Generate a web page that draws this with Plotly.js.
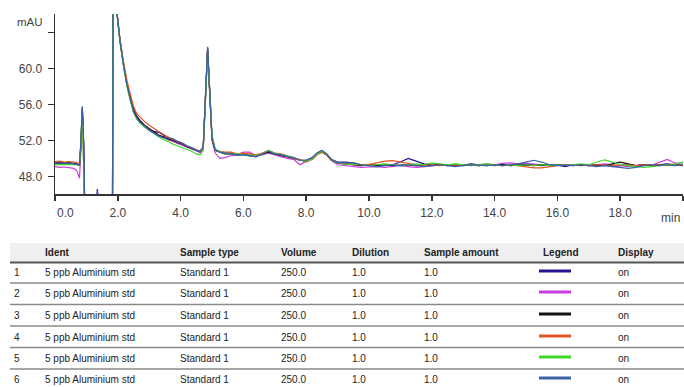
<!DOCTYPE html>
<html>
<head>
<meta charset="utf-8">
<script src="https://cdn.plot.ly/plotly-3.0.1.min.js"></script>
<style>
  html, body { margin: 0; padding: 0; background: #fff; }
  #chart { width: 684px; height: 387px; }
</style>
</head>
<body>
<div id="chart"></div>
<script>
// Retention time (min)
const time = [
  0, 0.15, 0.3, 0.45, 0.6, 0.7, 0.78, 0.82, 0.87, 0.91, 0.96,
  1.25, 1.31, 1.35, 1.39, 1.45,
  1.8, 1.83, 1.86, 1.93, 1.97,
  2.07, 2.18, 2.29, 2.4, 2.5, 2.6, 2.71,
  2.85, 3.0, 3.15, 3.3, 3.45, 3.6, 3.75, 3.9, 4.05, 4.2, 4.35, 4.5,
  4.62, 4.72, 4.79, 4.86, 4.93, 5.0, 5.1,
  5.25, 5.4, 5.6, 5.8, 6.0, 6.2, 6.4, 6.6, 6.8, 7.0, 7.2, 7.4, 7.6, 7.8, 8.0, 8.2, 8.35, 8.5, 8.65, 8.8, 9.0,
  9.25, 9.5, 9.75, 10, 10.25, 10.5, 10.75, 11, 11.25, 11.5, 11.75, 12, 12.25, 12.5, 12.75, 13,
  13.25, 13.5, 13.75, 14, 14.25, 14.5, 14.75, 15, 15.25, 15.5, 15.75, 16, 16.25, 16.5, 16.75, 17,
  17.25, 17.5, 17.75, 18, 18.25, 18.5, 18.75, 19, 19.25, 19.5, 19.75, 20
];

// Absorbance (mAU) of the six injections
const run1 = [
  49.5, 49.55, 49.5, 49.55, 49.45, 49.4, 49.3, 51.5, 55.7, 52.0, 42,
  42, 44, 46.6, 44, 42,
  42, 42, 92, 92, 66.3,
  63.0, 60.4, 58.2, 56.6, 55.3, 54.6, 54.1,
  53.6, 53.2, 53.0, 52.9, 52.6, 52.1, 52.0, 51.7, 51.5, 51.3, 51.1, 50.9,
  50.7, 51.2, 56.5, 62.3, 57.3, 52.3, 51.0,
  50.7, 50.6, 50.6, 50.4, 50.5, 50.4, 50.2, 50.5, 50.8, 50.5, 50.4, 50.2, 50.1, 49.8, 49.8, 50.1, 50.6, 50.9, 50.5, 49.9, 49.6,
  49.6, 49.5, 49.3, 49.2, 49.25, 49.3, 49.3, 49.6, 50.0, 49.7, 49.4, 49.3, 49.35, 49.2, 49.3, 49.25,
  49.4, 49.3, 49.2, 49.3, 49.35, 49.2, 49.3, 49.25, 49.3, 49.2, 49.3, 49.25, 49.1, 49.3, 49.2, 49.3,
  49.2, 49.25, 49.1, 49.2, 49.3, 49.2, 49.3, 49.2, 49.3, 49.4, 49.3, 49.35
];
const run2 = [
  49.1, 49.0, 49.05, 48.95, 48.9, 48.6, 47.8, 50.5, 55.0, 51.5, 42,
  42, 43, 45.5, 43, 42,
  42, 42, 92, 92, 66.3,
  63.1, 60.5, 58.3, 56.7, 55.4, 54.7, 54.2,
  53.7, 53.2, 52.9, 52.5, 52.3, 52.1, 51.9, 51.7, 51.5, 51.3, 51.1, 50.9,
  50.6, 51.0, 56.2, 62.0, 57.0, 52.0, 50.6,
  50.0, 50.1, 50.3, 50.4, 50.7, 50.7, 50.3, 50.4, 50.6, 50.4, 50.2, 50.0, 49.9, 49.3, 49.7, 50.0, 50.5, 50.8, 50.4, 49.8, 49.3,
  49.2, 49.1, 49.0, 49.05, 49.1, 49.0, 49.1, 49.2, 49.1, 49.0, 49.1, 49.2, 49.3, 49.2, 49.35, 49.3,
  49.2, 49.3, 49.4, 49.3, 49.45, 49.5, 49.4, 49.45, 49.4, 49.3, 49.2, 49.3, 49.3, 49.25, 49.3, 49.2,
  49.3, 49.4, 49.3, 49.2, 49.1, 49.2, 49.3, 49.25, 49.6, 49.9, 49.5, 49.3
];
const run3 = [
  49.4, 49.45, 49.4, 49.45, 49.4, 49.35, 49.3, 51.2, 55.5, 51.8, 42,
  42, 43, 45.6, 43, 42,
  42, 42, 92, 92, 66.3,
  63.1, 60.5, 58.3, 56.7, 55.4, 54.7, 54.2,
  53.7, 53.3, 52.9, 52.6, 52.4, 52.2, 52.0, 51.8, 51.6, 51.3, 51.1, 50.9,
  50.8, 51.2, 56.4, 62.2, 57.2, 52.2, 50.9,
  50.7, 50.5, 50.5, 50.4, 50.4, 50.3, 50.2, 50.5, 50.7, 50.5, 50.3, 50.2, 50.0, 49.8, 49.7, 50.0, 50.5, 50.7, 50.4, 49.8, 49.5,
  49.4, 49.3, 49.2, 49.3, 49.2, 49.3, 49.2, 49.25, 49.3, 49.2, 49.3, 49.2, 49.25, 49.3, 49.2, 49.3,
  49.25, 49.2, 49.3, 49.2, 49.3, 49.2, 49.25, 49.3, 49.2, 49.3, 49.2, 49.3, 49.2, 49.25, 49.3, 49.2,
  49.3, 49.2, 49.4, 49.6, 49.4, 49.2, 49.3, 49.2, 49.3, 49.25, 49.3, 49.2
];
const run4 = [
  49.65, 49.7, 49.6, 49.65, 49.6, 49.55, 49.4, 51.0, 55.3, 51.6, 42,
  42, 43, 45.5, 43, 42,
  42, 42, 92, 92, 66.3,
  63.3, 60.8, 58.7, 57.1, 55.8, 55.0, 54.6,
  54.1, 53.7, 53.3, 53.0, 52.7, 52.4, 52.1, 51.9, 51.7, 51.4, 51.2, 51.0,
  50.8, 51.1, 56.2, 62.0, 57.1, 52.2, 51.0,
  50.8, 50.7, 50.7, 50.5, 50.6, 50.5, 50.4, 50.6, 50.9, 50.6, 50.5, 50.3, 50.0, 49.9, 49.6, 49.9, 50.4, 50.7, 50.4, 49.8, 49.5,
  49.4, 49.3, 49.3, 49.35, 49.5, 49.7, 49.75, 49.6, 49.4, 49.3, 49.2, 49.3, 49.2, 49.3, 49.25, 49.2,
  49.3, 49.2, 49.3, 49.25, 49.2, 49.3, 49.2, 49.1, 48.95, 48.95, 49.1, 49.2, 49.3, 49.2, 49.3, 49.2,
  49.3, 49.25, 49.2, 49.3, 49.3, 49.2, 49.3, 49.25, 49.3, 49.2, 49.3, 49.25
];
const run5 = [
  49.3, 49.35, 49.3, 49.35, 49.3, 49.3, 49.2, 51.3, 55.6, 51.9, 42,
  42, 43, 45.5, 43, 42,
  42, 42, 92, 92, 66.3,
  63.0, 60.3, 58.0, 56.4, 55.1, 54.4, 53.9,
  53.5, 53.1, 52.7, 52.4, 52.1, 51.9, 51.6, 51.4, 51.2, 51.0, 50.8, 50.5,
  50.4, 50.9, 56.0, 61.8, 57.5, 52.6, 51.1,
  50.7, 50.6, 50.5, 50.5, 50.4, 50.4, 50.3, 50.5, 50.9, 50.6, 50.4, 50.3, 50.1, 49.8, 49.7, 50.0, 50.5, 50.8, 50.5, 49.9, 49.5,
  49.3, 49.4, 49.3, 49.2, 49.3, 49.4, 49.3, 49.2, 49.3, 49.4, 49.3, 49.5, 49.4, 49.3, 49.4, 49.3,
  49.2, 49.3, 49.4, 49.3, 49.2, 49.3, 49.2, 49.3, 49.2, 49.3, 49.2, 49.3, 49.2, 49.3, 49.4, 49.3,
  49.6, 49.85, 49.6, 49.3, 49.2, 49.1, 49.0, 49.1, 49.2, 49.3, 49.4, 49.6
];
const run6 = [
  49.45, 49.5, 49.45, 49.5, 49.4, 49.35, 49.25, 51.6, 55.8, 52.1, 42,
  42, 43.5, 46.4, 43.5, 42,
  42, 42, 92, 92, 66.3,
  63.1, 60.4, 58.2, 56.5, 55.2, 54.5, 54.0,
  53.6, 53.1, 52.8, 52.5, 52.3, 52.3, 52.2, 51.9, 51.7, 51.4, 51.2, 50.9,
  50.8, 51.3, 56.6, 62.4, 57.4, 52.4, 50.9,
  50.7, 50.6, 50.5, 50.4, 50.4, 50.3, 50.2, 50.5, 50.8, 50.5, 50.4, 50.2, 50.1, 49.8, 49.8, 50.1, 50.6, 50.9, 50.5, 49.9, 49.5,
  49.5, 49.5, 49.3, 49.2, 49.1, 49.2, 49.3, 49.2, 49.3, 49.2, 49.1, 49.2, 49.3, 49.2, 49.1, 49.2,
  49.3, 49.25, 49.2, 49.3, 49.2, 49.3, 49.4, 49.6, 49.8, 49.6, 49.3, 49.2, 49.25, 49.2, 49.3, 49.2,
  49.1, 49.2, 49.1, 49.0, 48.9, 49.0, 49.2, 49.3, 49.2, 49.3, 49.2, 49.3
];

const runs = [run1, run2, run3, run4, run5, run6];
const runColors = ['#2a1090', '#c93de0', '#111111', '#e2531f', '#3fd82a', '#3b62a6'];

// Axis ticks (the first label sits to the right of its tick, the last is replaced by the unit)
const xTickVals = [0, 2, 4, 6, 8, 10, 12, 14, 16, 18, 20];
const xTickText = ['', '2.0', '4.0', '6.0', '8.0', '10.0', '12.0', '14.0', '16.0', '18.0', ''];
const xFirstLabel = '0.0';
const yTickVals = [48, 52, 56, 60, 64];
const yTickText = ['48.0', '52.0', '56.0', '60.0', ''];

// Sample table
const tableHeader = ['', 'Ident', 'Sample type', 'Volume', 'Dilution', 'Sample amount', 'Legend', 'Display'];
const rowNumber = ['1', '2', '3', '4', '5', '6'];
const ident = ['5 ppb Aluminium std', '5 ppb Aluminium std', '5 ppb Aluminium std', '5 ppb Aluminium std', '5 ppb Aluminium std', '5 ppb Aluminium std'];
const sampleType = ['Standard 1', 'Standard 1', 'Standard 1', 'Standard 1', 'Standard 1', 'Standard 1'];
const volume = ['250.0', '250.0', '250.0', '250.0', '250.0', '250.0'];
const dilution = ['1.0', '1.0', '1.0', '1.0', '1.0', '1.0'];
const sampleAmount = ['1.0', '1.0', '1.0', '1.0', '1.0', '1.0'];
const display = ['on', 'on', 'on', 'on', 'on', 'on'];

// Page geometry (pixels)
const W = 684, H = 387;
const M = { l: 55, r: 1, t: 14, b: 193 };
const plotW = W - M.l - M.r, plotH = H - M.t - M.b;
const px = x => (x - M.l) / plotW;            // pixel x -> paper x
const py = y => (H - M.b - y) / plotH;        // pixel y -> paper y

const FONT = 'Liberation Sans, Arial, sans-serif';
const AXIS_TEXT = '#444';

const traces = runs.map((r, i) => ({
  type: 'scatter',
  mode: 'lines',
  x: time,
  y: r,
  name: String(i + 1),
  line: { color: runColors[i], width: 1.2 },
  hoverinfo: 'skip'
}));

const colX = [12, 43, 178, 279, 350, 422, 541, 616];
const headerY = 252;
const rowY = [272, 293, 315, 337, 358, 379];
const sepY = [283, 304.5, 326, 347.5, 369];

const annotations = [];
const shapes = [];

// axis captions
annotations.push({ xref: 'paper', yref: 'paper', x: px(15), y: py(22), xanchor: 'left', yanchor: 'middle',
  text: 'mAU', showarrow: false, font: { family: FONT, size: 11.5, color: AXIS_TEXT } });
annotations.push({ xref: 'paper', yref: 'paper', x: px(682), y: py(218), xanchor: 'right', yanchor: 'middle',
  text: 'min', showarrow: false, font: { family: FONT, size: 12, color: AXIS_TEXT } });
annotations.push({ xref: 'x', yref: 'paper', x: xTickVals[0], y: py(213), xanchor: 'left', yanchor: 'middle',
  text: xFirstLabel, showarrow: false, font: { family: FONT, size: 12, color: AXIS_TEXT } });

// table header
shapes.push({ type: 'rect', xref: 'paper', yref: 'paper', x0: px(10), x1: px(684), y0: py(262), y1: py(243),
  fillcolor: '#efefef', line: { width: 0 }, layer: 'below' });
shapes.push({ type: 'line', xref: 'paper', yref: 'paper', x0: px(10), x1: px(684), y0: py(262.5), y1: py(262.5),
  line: { color: '#555', width: 2 } });
tableHeader.forEach((h, c) => {
  if (!h) return;
  annotations.push({ xref: 'paper', yref: 'paper', x: px(colX[c]), y: py(headerY), xanchor: 'left', yanchor: 'middle',
    text: '<b>' + h + '</b>', showarrow: false, font: { family: FONT, size: 10, color: '#222' } });
});

// table rows
sepY.forEach(y => shapes.push({ type: 'line', xref: 'paper', yref: 'paper', x0: px(10), x1: px(684),
  y0: py(y), y1: py(y), line: { color: '#8a8a8a', width: 1.5 } }));

const columns = [rowNumber, ident, sampleType, volume, dilution, sampleAmount, null, display];
rowY.forEach((y, r) => {
  columns.forEach((col, c) => {
    if (!col) return;
    annotations.push({ xref: 'paper', yref: 'paper', x: px(colX[c]), y: py(y), xanchor: 'left', yanchor: 'middle',
      text: col[r], showarrow: false, font: { family: FONT, size: 10, color: '#222' } });
  });
  shapes.push({ type: 'line', xref: 'paper', yref: 'paper', x0: px(539), x1: px(571), y0: py(y - 1), y1: py(y - 1),
    line: { color: runColors[r], width: 3 } });
});

const layout = {
  width: W, height: H,
  margin: M,
  paper_bgcolor: '#fff', plot_bgcolor: '#fff',
  showlegend: false,
  xaxis: {
    range: [0, 20], tickvals: xTickVals, ticktext: xTickText,
    showgrid: false, zeroline: false, showline: true, linecolor: '#333', linewidth: 1.5,
    ticks: 'outside', ticklen: 5, tickwidth: 1.5, tickcolor: '#333', ticklabelstandoff: 2,
    tickfont: { family: FONT, size: 12, color: AXIS_TEXT }
  },
  yaxis: {
    range: [46.05, 66.05], tickvals: yTickVals, ticktext: yTickText,
    showgrid: false, zeroline: false, showline: true, linecolor: '#333', linewidth: 1.5,
    ticks: 'outside', ticklen: 6, tickwidth: 1.5, tickcolor: '#333', ticklabelstandoff: 3,
    tickfont: { family: FONT, size: 12, color: AXIS_TEXT }
  },
  annotations: annotations,
  shapes: shapes
};

Plotly.newPlot('chart', traces, layout, { displayModeBar: false, staticPlot: true });
</script>
</body>
</html>
